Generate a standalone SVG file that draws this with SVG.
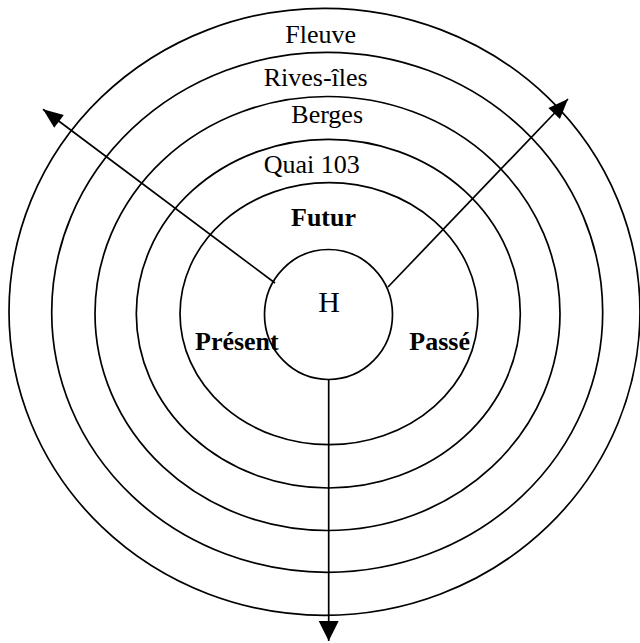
<svg xmlns="http://www.w3.org/2000/svg" width="640" height="643" viewBox="0 0 640 643">
  <style>
    .ring { fill: none; stroke: #000; stroke-width: 1.7; }
    .lbl { font-family: "Liberation Serif", "Times New Roman", serif; font-size: 26px; fill: #000; }
    .bold { font-weight: bold; }
    .conn { fill: none; stroke: #000; stroke-width: 1.7; }
  </style>
  <defs>
    <marker id="arrow" markerUnits="userSpaceOnUse" markerWidth="22" markerHeight="20" refX="20" refY="0" viewBox="0 -10 22 20" orient="auto" overflow="visible">
      <path d="M0,-8 L20,0 L0,8 Z" fill="#000"/>
    </marker>
    <marker id="arrowDown" markerUnits="userSpaceOnUse" markerWidth="22" markerHeight="22" refX="20" refY="0" viewBox="0 -11 22 22" orient="auto" overflow="visible">
      <path d="M0,-10 L20,0 L0,10 Z" fill="#000"/>
    </marker>
  </defs>
  <rect width="640" height="643" fill="#fff"/>

  <g id="ring-fleuve">
    <ellipse class="ring" cx="324.5" cy="311.8" rx="315.5" ry="303.5"/>
    <text class="lbl" x="285.3" y="42.7">Fleuve</text>
  </g>
  <g id="ring-rives-iles">
    <ellipse class="ring" cx="327.2" cy="312.3" rx="275.5" ry="260"/>
    <text class="lbl" x="263.7" y="86">Rives-îles</text>
  </g>
  <g id="ring-berges">
    <ellipse class="ring" cx="327.5" cy="313.5" rx="232.5" ry="217"/>
    <text class="lbl" x="291.3" y="122.7">Berges</text>
  </g>
  <g id="ring-quai-103">
    <ellipse class="ring" cx="328.3" cy="313.7" rx="192" ry="174.3"/>
    <text class="lbl" x="263.7" y="173.3">Quai 103</text>
  </g>
  <g id="ring-temps">
    <ellipse class="ring" cx="329" cy="313.7" rx="149" ry="131"/>
    <text class="lbl bold" x="291" y="225.5">Futur</text>
    <text class="lbl bold" x="195" y="350">Présent</text>
    <text class="lbl bold" x="409.3" y="350">Passé</text>
  </g>
  <g id="node-h">
    <ellipse class="ring" cx="328.5" cy="314.5" rx="64" ry="65"/>
    <text class="lbl" x="318.3" y="311.7" style="font-size:30px">H</text>
  </g>

  <g id="connectors">
    <line class="conn" x1="275" y1="283" x2="43" y2="109.3" marker-end="url(#arrow)"/>
    <line class="conn" x1="388" y1="287" x2="568" y2="99" marker-end="url(#arrow)"/>
    <line class="conn" x1="328.7" y1="379.5" x2="328.7" y2="641" marker-end="url(#arrowDown)"/>
  </g>
</svg>
